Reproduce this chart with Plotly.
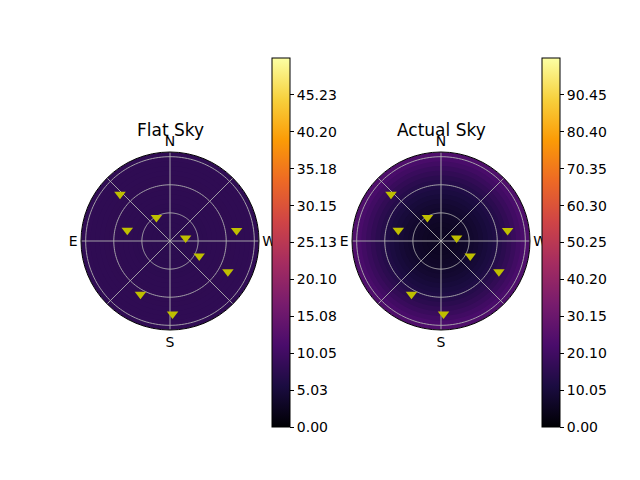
import plotly.graph_objects as go

# sky brightness, one value per 5-unit ring (outer edge 5..95)
ring_outer = [5, 10, 15, 20, 25, 30, 35, 40, 45, 50, 55, 60, 65, 70, 75, 80, 85, 90, 95]
flat_sky_profile = [7.5, 7.5, 7.6, 7.6, 7.6, 7.7, 7.7, 7.7, 7.8, 7.8, 7.8, 7.9, 7.9, 7.9, 8.0, 8.0, 8.0, 8.1, 8.1]
actual_sky_profile = [5.5, 5.6, 5.8, 6.1, 6.5, 7.0, 7.6, 8.3, 9.1, 10.0, 11.0, 12.2, 13.5, 15.0, 16.6, 18.3, 20.1, 22.0, 23.5]

# satellites: azimuth (deg, N=0, E=90) and zenith distance
sat_azimuth = [47, 30, 76, 281, 279, 243, 242, 151, 182]
sat_zenith = [73, 29, 47, 17, 72, 35, 70, 65, 78]

flat_ticks = [0.00, 5.03, 10.05, 15.08, 20.10, 25.13, 30.15, 35.18, 40.20, 45.23]
actual_ticks = [0.00, 10.05, 20.10, 30.15, 40.20, 50.25, 60.30, 70.35, 80.40, 90.45]
flat_max = 50.25
actual_max = 100.5

compass_vals = [0, 45, 90, 135, 180, 225, 270, 315]
compass_text = ['N', '', 'E', '', 'S', '', 'W', '']
grid_rings = [30, 60, 90]
R_MAX = 95

FONT = 'DejaVu Sans'
GRID = '#b0b0b0'
W, H = 640, 480
OFF = 8  # page body margin shifts the figure by 8px


def px(x):
    return (x - OFF) / W


def py(y):
    return 1 - (y - OFF) / H


fig = go.Figure()


def add_sky(profile, polar, caxis):
    # discs drawn from the outside in, so each ring covers the one below (no seams)
    fig.add_trace(go.Barpolar(
        theta=[0] * len(ring_outer), r=ring_outer[::-1], width=[360] * len(ring_outer),
        marker=dict(color=profile[::-1], coloraxis=caxis, line=dict(width=0)),
        subplot=polar, showlegend=False, hoverinfo='skip'))

    # grid drawn as traces so it sits on top of the sky
    circle = list(range(0, 361, 2))
    for rr in grid_rings:
        fig.add_trace(go.Scatterpolar(
            theta=circle, r=[rr] * len(circle), mode='lines', subplot=polar,
            line=dict(color=GRID, width=0.9), showlegend=False, hoverinfo='skip'))
    for a in compass_vals:
        fig.add_trace(go.Scatterpolar(
            theta=[a, a], r=[0, R_MAX], mode='lines', subplot=polar,
            line=dict(color=GRID, width=0.9), showlegend=False, hoverinfo='skip'))

    fig.add_trace(go.Scatterpolar(
        theta=sat_azimuth, r=sat_zenith, mode='markers', subplot=polar,
        marker=dict(symbol='triangle-down', size=10, color='#bfbf00'),
        showlegend=False))


add_sky(flat_sky_profile, 'polar', 'coloraxis')
add_sky(actual_sky_profile, 'polar2', 'coloraxis2')


def polar_layout(cx):
    r = 89
    return dict(
        domain=dict(x=[px(cx - r), px(cx + r)], y=[py(241 + r), py(241 - r)]),
        bgcolor='white', bargap=0, barmode='overlay',
        radialaxis=dict(range=[0, R_MAX], tickvals=grid_rings, showticklabels=False,
                        ticks='', showline=False, showgrid=False),
        angularaxis=dict(rotation=90, direction='counterclockwise',
                         tickvals=compass_vals, ticktext=compass_text, ticks='',
                         showline=True, linecolor='black', linewidth=1,
                         showgrid=False, layer='above traces',
                         tickfont=dict(size=14, color='black')),
    )


def colorbar(x, ticks, fmt='{:.2f}'):
    return dict(
        x=px(x), xanchor='left', y=py(242.5), yanchor='middle',
        len=369 / H, lenmode='fraction', thickness=18, thicknessmode='pixels',
        outlinewidth=1, outlinecolor='black', tickvals=ticks,
        ticktext=[fmt.format(t) for t in ticks], ticks='outside', ticklen=4,
        tickcolor='black', tickfont=dict(size=14, color='black'), xpad=0, ypad=0)


fig.update_layout(
    width=W, height=H, margin=dict(l=0, r=0, t=0, b=0),
    paper_bgcolor='white', font=dict(family=FONT, color='black'),
    polar=polar_layout(170),
    polar2=polar_layout(441),
    coloraxis=dict(colorscale='Inferno', cmin=0, cmax=flat_max, colorbar=colorbar(272, flat_ticks)),
    coloraxis2=dict(colorscale='Inferno', cmin=0, cmax=actual_max, colorbar=colorbar(542, actual_ticks)),
    annotations=[
        dict(text='Flat Sky', x=px(170), y=py(130), xref='paper', yref='paper',
             xanchor='center', yanchor='middle', showarrow=False, font=dict(size=17)),
        dict(text='Actual Sky', x=px(441), y=py(130), xref='paper', yref='paper',
             xanchor='center', yanchor='middle', showarrow=False, font=dict(size=17)),
    ],
)

fig.write_html('out.html')
